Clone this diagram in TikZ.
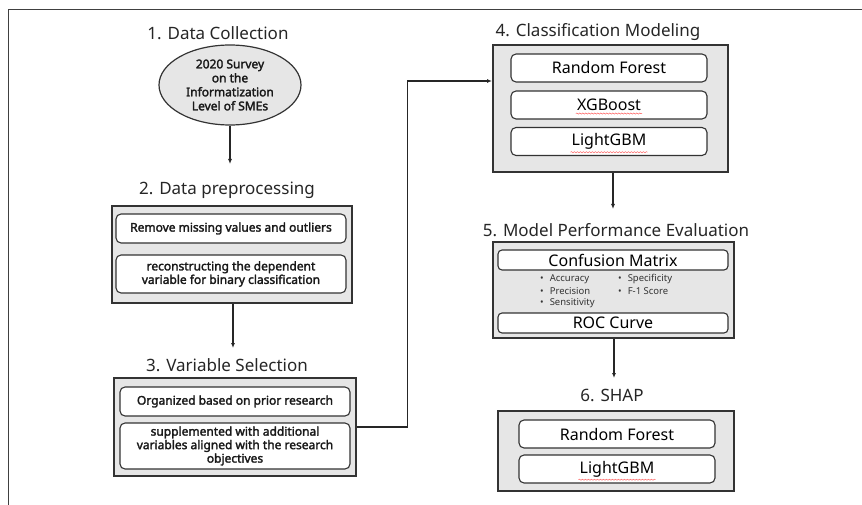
\documentclass[tikz,border=0pt]{standalone}
\usepackage{fontspec}
\setmainfont{Noto Sans}
\newfontfamily\boldsans{Noto Sans}[FakeBold=2.2]
\usetikzlibrary{arrows.meta,shapes.geometric,decorations.pathmorphing}
\definecolor{boxgray}{HTML}{E6E6E6}
\definecolor{edge}{HTML}{333333}
\tikzset{
  title/.style={font=\fontsize{17}{19}\selectfont, inner sep=0pt, text=black!85},
  outer/.style={draw=edge, line width=1.3pt, fill=boxgray, inner sep=0pt},
  inner/.style={draw=edge, line width=1.1pt, fill=white, rounded corners=5pt, inner sep=0pt, align=center},
  smallbold/.style={font=\boldsans\fontsize{12}{13.5}\selectfont, text=black!90},
  big/.style={font=\fontsize{16}{18}\selectfont},
  lbl/.style={big, inner sep=0pt},
  conn/.style={line width=1.1pt, draw=black!85},
  arr/.style={conn, -{Latex[length=5pt,width=4pt]}},
  spell/.style={draw=red!70, line width=0.4pt, decorate, decoration={snake, amplitude=0.6pt, segment length=3pt}},
  bul/.style={font=\fontsize{9.5}{11.5}\selectfont, inner sep=0pt, anchor=west, text=black!80}
}
\begin{document}
\begin{tikzpicture}[x=1pt,y=-1pt]
\useasboundingbox (0,0) rectangle (862,505);
% frame
\coordinate (frTL) at (8,10);
\coordinate (frTR) at (862,10);
\coordinate (frBL) at (8,505);
\draw[line width=1pt, draw=black!75] (frBL) -- (frTL) -- (frTR);

% 1. Data Collection
\node[title] (t1) at (218,33) {1. Data Collection};
\node[ellipse, draw=edge, line width=1.2pt, fill=boxgray, minimum width=142, minimum height=80, inner sep=0pt, align=center, smallbold, font=\boldsans\fontsize{12}{14}\selectfont] (e1) at (230,85) {2020 Survey\\on the\\Informatization\\Level of SMEs};

% 2. Data preprocessing
\node[title] (t2) at (227,190) {2. Data preprocessing};
\node[outer, minimum width=240, minimum height=97] (b2) at (232,254.5) {};
\node[inner, smallbold, minimum width=230, minimum height=29] (b2a) at (231,228.5) {Remove missing values and outliers};
\node[inner, smallbold, minimum width=230, minimum height=38] (b2b) at (231,274) {reconstructing the dependent\\variable for binary classification};

% 3. Variable Selection
\node[title] (t3) at (227,365) {3. Variable Selection};
\node[outer, minimum width=242, minimum height=98] (b3) at (235,427) {};
\node[inner, smallbold, minimum width=230, minimum height=29] (b3a) at (235,401.5) {Organized based on prior research};
\node[inner, smallbold, minimum width=230, minimum height=46] (b3b) at (235,446) {supplemented with additional\\variables aligned with the research\\objectives};

% 4. Classification Modeling
\node[title] (t4) at (598,32) {4. Classification Modeling};
\node[outer, minimum width=235, minimum height=127] (b4) at (610.5,108.5) {};
\node[inner, big, minimum width=196, minimum height=28] (b4a) at (609,68) {Random Forest};
\node[inner, minimum width=196, minimum height=28] (b4b) at (609,105) {};
\node[lbl] (x4b) at (b4b) {XGBoost};
\node[inner, minimum width=196, minimum height=28] (b4c) at (609,141.5) {};
\node[lbl] (x4c) at (b4c) {LightGBM};

% 5. Model Performance Evaluation
\node[title] (t5) at (616,230) {5. Model Performance Evaluation};
\node[outer, minimum width=241, minimum height=96] (b5) at (613.5,290) {};
\node[inner, big, minimum width=230, minimum height=20, rounded corners=4pt] (b5a) at (613,260) {Confusion Matrix};
\node[inner, big, minimum width=230, minimum height=20, rounded corners=4pt] (b5b) at (613,323) {ROC Curve};
\node[bul] (m1) at (540,279) {•\hspace{6pt}Accuracy};
\node[bul] (m2) at (540,291) {•\hspace{6pt}Precision};
\node[bul] (m3) at (540,303) {•\hspace{6pt}Sensitivity};
\node[bul] (m4) at (618,279) {•\hspace{6pt}Specificity};
\node[bul] (m5) at (618,291) {•\hspace{6pt}F-1 Score};

% 6. SHAP
\node[title] (t6) at (612,395) {6. SHAP};
\node[outer, minimum width=236, minimum height=80] (b6) at (616,451) {};
\node[inner, big, minimum width=196, minimum height=28] (b6a) at (617,434) {Random Forest};
\node[inner, minimum width=196, minimum height=28] (b6b) at (617,469) {};
\node[lbl] (x6b) at (b6b) {LightGBM};

% spell-check underlines
\draw[spell] ([xshift=-1pt,yshift=-2.5pt]x4b.south west) -- ([xshift=1pt,yshift=-2.5pt]x4b.south east);
\draw[spell] ([xshift=-1pt,yshift=-2.5pt]x4c.south west) -- ([xshift=1pt,yshift=-2.5pt]x4c.south east);
\draw[spell] ([xshift=-1pt,yshift=-2.5pt]x6b.south west) -- ([xshift=1pt,yshift=-2.5pt]x6b.south east);

% connectors
\coordinate (a1end) at (230,164);
\coordinate (a2end) at (233,348);
\coordinate (a4in) at (492,81);
\coordinate (a4end) at (613,209);
\coordinate (a5end) at (614,378);
\draw[arr] (e1.south) -- (a1end);
\draw[arr] (b2.south -| a2end) -- (a2end);
\draw[arr] (b3.east) -- ++(51,0) |- (a4in);
\draw[arr] (b4.south -| a4end) -- (a4end);
\draw[arr] (b5.south -| a5end) -- (a5end);
\end{tikzpicture}
\end{document}
